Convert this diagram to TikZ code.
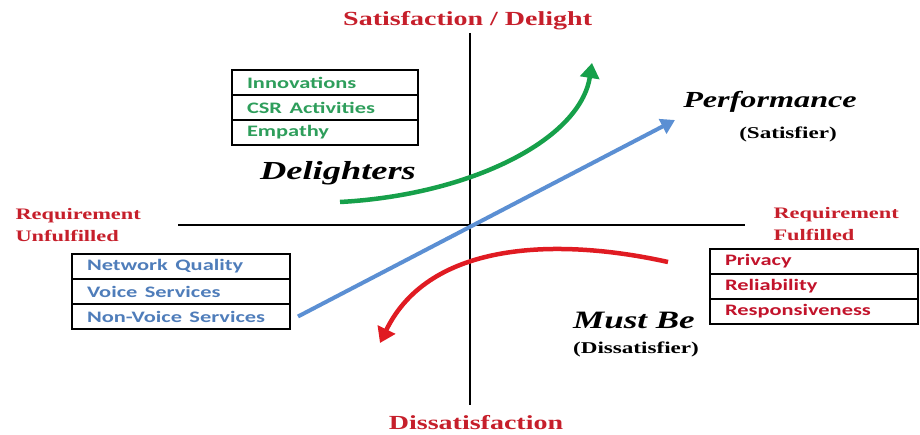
\documentclass[tikz,border=0pt]{standalone}
\usepackage{fontspec}
\setmainfont{Liberation Serif}
\newfontfamily\boxfont{Carlito}
\usetikzlibrary{positioning, arrows.meta}
\definecolor{kanored}{HTML}{C61F2B}
\definecolor{cellred}{HTML}{C2132B}
\definecolor{cellgreen}{HTML}{2E9E5B}
\definecolor{cellblue}{HTML}{4F7DBA}
\definecolor{linegreen}{HTML}{16A04A}
\definecolor{lineblue}{HTML}{5B8FD3}
\definecolor{linered}{HTML}{E01B22}
\newcommand{\wid}[1]{\scalebox{1.4}[1]{#1}}

\begin{document}
\begin{tikzpicture}[x=1pt,y=-1pt,
   cell/.style={draw, line width=1.2pt, outer sep=0pt, anchor=north west,
      minimum height=25pt, inner ysep=0pt, inner xsep=15pt, align=left,
      font=\boxfont\fontsize{16}{18}\selectfont\bfseries},
   axis/.style={line width=2.5pt},
   curve/.style={line width=4.5pt, -{Triangle[length=15pt,width=19pt]}},
   pole/.style={anchor=base, text=kanored, font=\fontsize{20}{24}\selectfont\bfseries},
   side/.style={anchor=base west, align=left, text=kanored, font=\fontsize{16}{22}\selectfont\bfseries},
   kind/.style={anchor=base, font=\fontsize{#1}{#1}\selectfont\bfseries\itshape},
   note/.style={anchor=base, font=\fontsize{16.5}{18}\selectfont\bfseries}]
\useasboundingbox (0,0) rectangle (920,435);

\coordinate (top) at (470,33);
\coordinate (bottom) at (470,405);
\coordinate (left) at (178,225);
\coordinate (right) at (745,225);
\draw[axis] (top) -- (bottom);
\draw[axis] (left) -- (right);

\node[pole, anchor=base west, inner sep=0pt] (sat) at (343,26) {\wid{Satisfaction / Delight}};
\node[pole] (dissat) at ([xshift=6pt,yshift=-24pt]bottom) {\wid{Dissatisfaction}};
\node[side] (unfulf) at (12,242) {\wid{Requirement}\\\wid{Unfulfilled}};
\node[side] (fulf) at (770,241) {\wid{Requirement}\\\wid{Fulfilled}};

\node[kind=23] (perf) at (770,108) {\wid{Performance}};
\node[note] (satisf) at (788,139) {\wid{(Satisfier)}};
\node[kind=26] (deli) at (338,180) {\wid{Delighters}};
\node[kind=25] (mustbe) at (634,328) {\wid{Must Be}};
\node[note] (dissatisf) at (636,353) {\wid{(Dissatisfier)}};

\node[cell, text=cellgreen, text width=156pt] (inno) at (232,70) {\wid{Innovations}};
\node[cell, text=cellgreen, text width=156pt, below=0pt of inno] (csr) {\wid{CSR Activities}};
\node[cell, text=cellgreen, text width=156pt, below=0pt of csr] (empathy) {\wid{Empathy}};

\node[cell, text=cellblue, text width=188pt] (netq) at (72,254) {\wid{Network Quality}};
\node[cell, text=cellblue, text width=188pt, below=0pt of netq] (voice) {\wid{Voice Services}};
\node[cell, text=cellblue, text width=188pt, below=0pt of voice] (nonvoice) {\wid{Non-Voice Services}};

\node[cell, text=cellred, text width=178pt] (privacy) at (710,249) {\wid{Privacy}};
\node[cell, text=cellred, text width=178pt, below=0pt of privacy] (reliab) {\wid{Reliability}};
\node[cell, text=cellred, text width=178pt, below=0pt of reliab] (respons) {\wid{Responsiveness}};

\coordinate (gstart) at (340,202);
\coordinate (gend) at (592,63);
\coordinate (bstart) at ([xshift=8pt]nonvoice.east);
\coordinate (bend) at (675,120);
\coordinate (rstart) at (668,262);
\coordinate (rend) at (380,343);
\draw[curve, linegreen] (gstart) .. controls (470,195) and (580,140) .. (gend);
\draw[curve, lineblue, line width=4pt, -{Triangle[length=14pt,width=16pt]}] (bstart) -- (bend);
\draw[curve, linered] (rstart) .. controls (560,238) and (430,240) .. (rend);
\end{tikzpicture}
\end{document}
